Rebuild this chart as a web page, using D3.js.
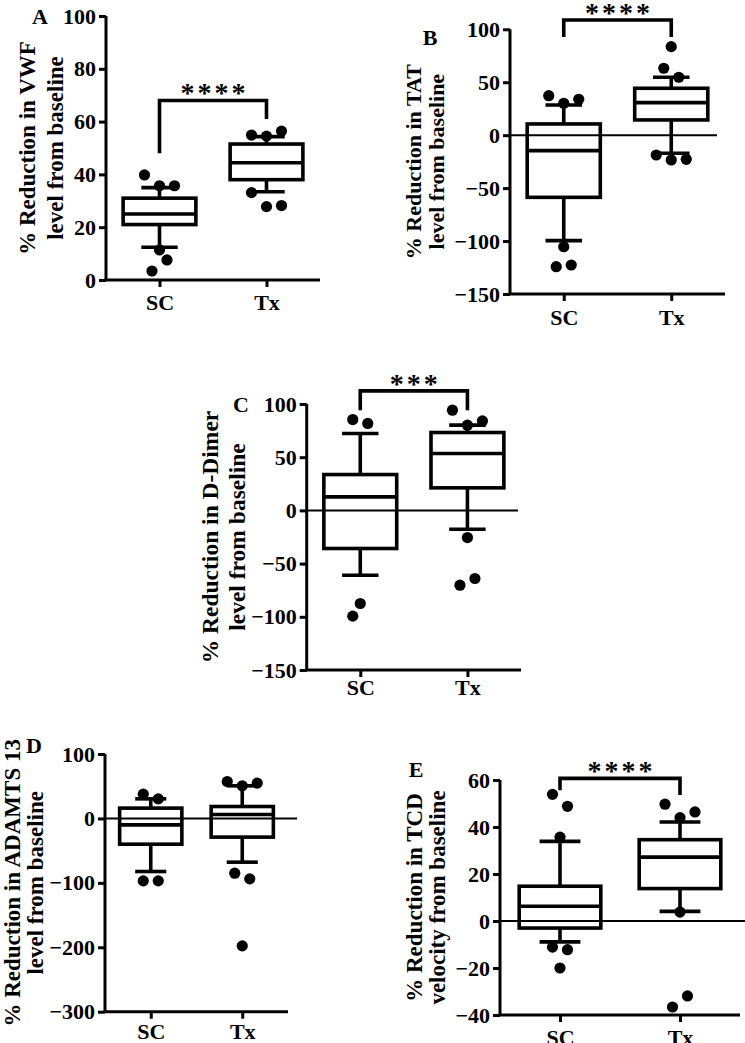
<!DOCTYPE html>
<html><head><meta charset="utf-8">
<script src="https://cdn.jsdelivr.net/npm/d3@7"></script>
<style>
body{margin:0;background:#fff}
svg{display:block}
text{font-family:"Liberation Serif","Times New Roman",serif;font-weight:bold;fill:#000}
</style>
</head><body>
<svg id="c" width="745" height="1043"></svg>
<script>
// ---------- DATA ----------
const categories = ["SC", "Tx"];
// box stats per group: [whisker low, Q1, median, Q3, whisker high]
const vwfBox = [[12.4, 21, 25, 31, 35], [33.4, 38, 44.4, 51.5, 54.3]];
const vwfOut = [[39.8, 35.7, 35.7, 11.4, 7.6, 3.4], [54.9, 54.5, 56.4, 33.1, 27.8, 28.2]];
const vwfSpread = [[-1, 0, 1, 0, 0.5, -0.5], [-1, 0, 1, -1, 0, 1]];
const vwfTicks = [0, 20, 40, 60, 80, 100];

const tatBox = [[-99.6, -58.7, -14.6, 10.6, 28.5], [-17, 14.4, 30.7, 44.3, 54.7]];
const tatOut = [[37.3, 30.1, 33.9, -105.3, -124.2, -122.6], [83.6, 63.2, 54.7, -18.7, -23.4, -22.8]];
const tatSpread = [[-1, 0, 1, 0, -0.5, 0.5], [0, -0.5, 0.5, -1, 0, 1]];
const tatTicks = [-150, -100, -50, 0, 50, 100];

const ddBox = [[-60.9, -35.8, 12.7, 33.7, 72.3], [-17.7, 21.2, 53.5, 73.2, 80.1]];
const ddOut = [[85.4, 81.7, -87.5, -99.4], [94.2, 80.1, 84.1, -25.5, -70.3, -64.0]];
const ddSpread = [[-0.5, 0.5, 0, -0.5], [-1, 0, 1, 0, -0.5, 0.5]];
const ddTicks = [-150, -100, -50, 0, 50, 100];

const adBox = [[-82.4, -40, -10, 16, 30.4], [-67.9, -29, 6, 18.5, 50.6]];
const adOut = [[37.7, 30.4, -96.9, -96.9], [57.3, 50.6, 54.8, -85, -93.8, -197.8]];
const adSpread = [[-0.5, 0.5, -0.5, 0.5], [-1, 0, 1, -0.5, 0.5, 0]];
const adTicks = [-300, -200, -100, 0, 100];

const tcdBox = [[-8.9, -3, 6.3, 14.8, 33.9], [4.1, 13.8, 27.2, 34.6, 42.1]];
const tcdOut = [[53.9, 48.8, 35.7, -11.1, -12.2, -20], [49.7, 44, 46.4, 3.8, -36.6, -31.9]];
const tcdSpread = [[-0.5, 0.5, 0, -0.5, 0.5, 0], [-1, 0, 1, 0, -0.5, 0.5]];
const tcdTicks = [-40, -20, 0, 20, 40, 60];

// significance brackets: [top value, left leg end, right leg end]
const vwfSig = {label: "****", level: [68, 48, 61]};
const tatSig = {label: "****", level: [108.8, 92.8, 92.8]};
const ddSig = {label: "***", level: [112.3, 94.2, 94.2]};
const tcdSig = {label: "****", level: [60.7, 55.6, 53.6]};

const panels = [
  {letter: "A", lines: ["% Reduction in VWF", "level from baseline"], domain: [0, 100], ticks: vwfTicks,
   box: vwfBox, out: vwfOut, spread: vwfSpread, sig: vwfSig, zero: false,
   L: {x0: 106, x1: 320, yT: 16, yB: 280, lab: [27, 55], labFS: 23, letX: 40, letY: 24, xlabDy: 30}},
  {letter: "B", lines: ["% Reduction in TAT", "level from baseline"], domain: [-150, 100], ticks: tatTicks,
   box: tatBox, out: tatOut, spread: tatSpread, sig: tatSig, zero: true,
   L: {x0: 510, x1: 725, yT: 29.3, yB: 294, lab: [413, 436], labFS: 22, letX: 430, letY: 45, xlabDy: 31, zEnd: 717}},
  {letter: "C", lines: ["% Reduction in D-Dimer", "level from baseline"], domain: [-150, 100], ticks: ddTicks,
   box: ddBox, out: ddOut, spread: ddSpread, sig: ddSig, zero: true,
   L: {x0: 306.7, x1: 521, yT: 404, yB: 670, lab: [210, 237], labFS: 23.5, letX: 241, letY: 412, xlabDy: 25, zEnd: 518}},
  {letter: "D", lines: ["% Reduction in ADAMTS 13", "level from baseline"], domain: [-300, 100], ticks: adTicks,
   box: adBox, out: adOut, spread: adSpread, sig: null, zero: true,
   L: {x0: 105, x1: 288, yT: 754, yB: 1011.7, lab: [12, 35], labFS: 23, letX: 34, letY: 753, xlabDy: 27, zEnd: 297}},
  {letter: "E", lines: ["% Reduction in TCD", "velocity from baseline"], domain: [-40, 60], ticks: tcdTicks,
   box: tcdBox, out: tcdOut, spread: tcdSpread, sig: tcdSig, zero: true,
   L: {x0: 500, x1: 740, yT: 780, yB: 1015, lab: [414, 437], labFS: 23, letX: 416, letY: 777, xlabDy: 30, zEnd: 745}}
];

// ---------- DRAW ----------
const svg = d3.select("#c");
const FS = 22, R = 5.6, SW = 3.6;

panels.forEach(p => {
  const L = p.L;
  const g = svg.append("g");
  const y = d3.scaleLinear().domain(p.domain).range([L.yB, L.yT]);
  const x = d3.scalePoint().domain(categories).range([L.x0, L.x1]).padding(0.5);
  const step = x.step();
  const bw = step * 0.34, cw = step * 0.17, slot = 15;

  // y axis
  const ya = g.append("g").attr("transform", `translate(${L.x0},0)`)
    .call(d3.axisLeft(y).tickValues(p.ticks).tickSize(7).tickSizeOuter(0).tickPadding(3).tickFormat(d3.format("d")));
  ya.select(".domain").attr("stroke-width", 3).attr("d", `M0,${L.yT}V${L.yB}`);
  ya.selectAll(".tick line").attr("stroke-width", 3);
  ya.selectAll(".tick text").style("font-size", FS + "px").style("font-family", "Liberation Serif").style("font-weight", "bold");

  // x axis
  const xa = g.append("g").attr("transform", `translate(0,${L.yB})`)
    .call(d3.axisBottom(x).tickSize(7).tickSizeOuter(0).tickPadding(0));
  xa.select(".domain").attr("stroke-width", 3).attr("d", `M${L.x0 - 1.5},0H${L.x1}`);
  xa.selectAll(".tick line").attr("stroke-width", 3);
  xa.selectAll(".tick text").attr("y", L.xlabDy).attr("dy", 0)
    .style("font-size", FS + "px").style("font-family", "Liberation Serif").style("font-weight", "bold");

  // zero line
  if (p.zero) {
    g.append("line").attr("x1", L.x0).attr("x2", L.zEnd).attr("y1", y(0)).attr("y2", y(0))
      .attr("stroke", "#000").attr("stroke-width", 2);
  }

  // boxes
  categories.forEach((c, i) => {
    const [lo, q1, md, q3, hi] = p.box[i];
    const cx = x(c);
    const bg = g.append("g").attr("stroke", "#000").attr("stroke-width", SW).attr("fill", "none");
    bg.append("line").attr("x1", cx).attr("x2", cx).attr("y1", y(q3)).attr("y2", y(hi));
    bg.append("line").attr("x1", cx).attr("x2", cx).attr("y1", y(q1)).attr("y2", y(lo));
    bg.append("line").attr("x1", cx - cw).attr("x2", cx + cw).attr("y1", y(hi)).attr("y2", y(hi));
    bg.append("line").attr("x1", cx - cw).attr("x2", cx + cw).attr("y1", y(lo)).attr("y2", y(lo));
    bg.append("rect").attr("x", cx - bw).attr("width", 2 * bw).attr("y", y(q3)).attr("height", y(q1) - y(q3));
    bg.append("line").attr("x1", cx - bw).attr("x2", cx + bw).attr("y1", y(md)).attr("y2", y(md));
    // outliers
    g.append("g").selectAll("circle").data(p.out[i]).join("circle")
      .attr("cx", (d, j) => cx + p.spread[i][j] * slot)
      .attr("cy", d => y(d)).attr("r", R).attr("fill", "#000");
  });

  // significance bracket
  if (p.sig) {
    const [top, l, r] = p.sig.level;
    const xa0 = x(categories[0]), xa1 = x(categories[1]);
    g.append("path").attr("d", `M${xa0},${y(l)}V${y(top)}H${xa1}V${y(r)}`)
      .attr("fill", "none").attr("stroke", "#000").attr("stroke-width", SW).attr("stroke-linejoin", "miter");
    g.append("text").attr("x", (xa0 + xa1) / 2 + 1.5).attr("y", y(top) + 2)
      .attr("text-anchor", "middle").style("font-size", "28px").style("letter-spacing", "3px")
      .text(p.sig.label);
  }

  // panel letter
  g.append("text").attr("x", L.letX).attr("y", L.letY).attr("text-anchor", "middle")
    .style("font-size", FS + "px").text(p.letter);

  // y label
  const cy = (L.yT + L.yB) / 2;
  p.lines.forEach((t, k) => {
    g.append("text").attr("transform", `translate(${L.lab[k]},${cy}) rotate(-90)`)
      .attr("text-anchor", "middle").attr("dominant-baseline", "central")
      .style("font-size", L.labFS + "px").text(t);
  });
});
</script>
</body></html>
